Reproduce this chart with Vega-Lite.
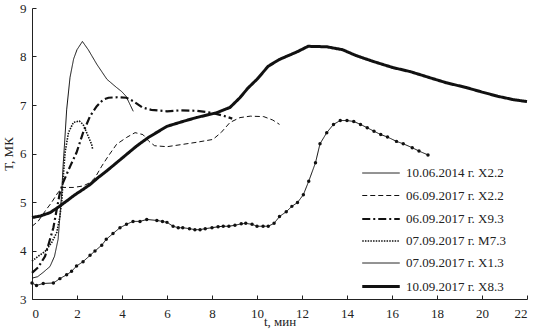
{
  "$schema": "https://vega.github.io/schema/vega-lite/v6.json",
  "width": 495,
  "height": 291,
  "autosize": {"type": "none"},
  "padding": {"left": 32, "top": 8, "right": 10, "bottom": 33},
  "background": "white",
  "data": {"values": [
    {"s":"10.06.2014 г. X2.2","t":0,"T":3.43},{"s":"10.06.2014 г. X2.2","t":0.25,"T":3.46},{"s":"10.06.2014 г. X2.2","t":0.5,"T":3.55},{"s":"10.06.2014 г. X2.2","t":0.8,"T":3.67},{"s":"10.06.2014 г. X2.2","t":1.0,"T":3.88},{"s":"10.06.2014 г. X2.2","t":1.16,"T":4.23},{"s":"10.06.2014 г. X2.2","t":1.24,"T":4.7},{"s":"10.06.2014 г. X2.2","t":1.32,"T":5.19},{"s":"10.06.2014 г. X2.2","t":1.38,"T":5.73},{"s":"10.06.2014 г. X2.2","t":1.46,"T":6.3},{"s":"10.06.2014 г. X2.2","t":1.54,"T":6.9},{"s":"10.06.2014 г. X2.2","t":1.69,"T":7.57},{"s":"10.06.2014 г. X2.2","t":1.85,"T":7.95},{"s":"10.06.2014 г. X2.2","t":2.0,"T":8.14},{"s":"10.06.2014 г. X2.2","t":2.24,"T":8.31},{"s":"10.06.2014 г. X2.2","t":2.5,"T":8.14},{"s":"10.06.2014 г. X2.2","t":2.88,"T":7.84},{"s":"10.06.2014 г. X2.2","t":3.33,"T":7.53},{"s":"10.06.2014 г. X2.2","t":3.76,"T":7.36},{"s":"10.06.2014 г. X2.2","t":3.98,"T":7.28},{"s":"10.06.2014 г. X2.2","t":4.18,"T":7.18},{"s":"10.06.2014 г. X2.2","t":4.5,"T":6.87},
    {"s":"06.09.2017 г. X2.2","t":0,"T":4.5},{"s":"06.09.2017 г. X2.2","t":0.27,"T":4.6},{"s":"06.09.2017 г. X2.2","t":0.58,"T":4.81},{"s":"06.09.2017 г. X2.2","t":0.87,"T":4.99},{"s":"06.09.2017 г. X2.2","t":1.16,"T":5.2},{"s":"06.09.2017 г. X2.2","t":1.38,"T":5.3},{"s":"06.09.2017 г. X2.2","t":1.84,"T":5.3},{"s":"06.09.2017 г. X2.2","t":2.27,"T":5.33},{"s":"06.09.2017 г. X2.2","t":2.58,"T":5.4},{"s":"06.09.2017 г. X2.2","t":2.8,"T":5.5},{"s":"06.09.2017 г. X2.2","t":3.1,"T":5.74},{"s":"06.09.2017 г. X2.2","t":3.38,"T":5.94},{"s":"06.09.2017 г. X2.2","t":3.76,"T":6.19},{"s":"06.09.2017 г. X2.2","t":4.2,"T":6.33},{"s":"06.09.2017 г. X2.2","t":4.58,"T":6.43},{"s":"06.09.2017 г. X2.2","t":4.93,"T":6.39},{"s":"06.09.2017 г. X2.2","t":5.2,"T":6.25},{"s":"06.09.2017 г. X2.2","t":5.45,"T":6.16},{"s":"06.09.2017 г. X2.2","t":6.0,"T":6.14},{"s":"06.09.2017 г. X2.2","t":6.58,"T":6.18},{"s":"06.09.2017 г. X2.2","t":7.3,"T":6.23},{"s":"06.09.2017 г. X2.2","t":8.04,"T":6.29},{"s":"06.09.2017 г. X2.2","t":8.4,"T":6.43},{"s":"06.09.2017 г. X2.2","t":8.8,"T":6.64},{"s":"06.09.2017 г. X2.2","t":9.24,"T":6.74},{"s":"06.09.2017 г. X2.2","t":9.7,"T":6.77},{"s":"06.09.2017 г. X2.2","t":10.3,"T":6.76},{"s":"06.09.2017 г. X2.2","t":10.7,"T":6.69},{"s":"06.09.2017 г. X2.2","t":11.0,"T":6.6},
    {"s":"06.09.2017 г. X9.3","t":0,"T":3.54},{"s":"06.09.2017 г. X9.3","t":0.27,"T":3.65},{"s":"06.09.2017 г. X9.3","t":0.58,"T":3.88},{"s":"06.09.2017 г. X9.3","t":0.8,"T":4.23},{"s":"06.09.2017 г. X9.3","t":0.95,"T":4.47},{"s":"06.09.2017 г. X9.3","t":1.1,"T":4.85},{"s":"06.09.2017 г. X9.3","t":1.24,"T":5.19},{"s":"06.09.2017 г. X9.3","t":1.38,"T":5.4},{"s":"06.09.2017 г. X9.3","t":1.69,"T":5.73},{"s":"06.09.2017 г. X9.3","t":1.98,"T":6.02},{"s":"06.09.2017 г. X9.3","t":2.27,"T":6.43},{"s":"06.09.2017 г. X9.3","t":2.58,"T":6.77},{"s":"06.09.2017 г. X9.3","t":2.87,"T":6.97},{"s":"06.09.2017 г. X9.3","t":3.16,"T":7.11},{"s":"06.09.2017 г. X9.3","t":3.4,"T":7.15},{"s":"06.09.2017 г. X9.3","t":3.8,"T":7.16},{"s":"06.09.2017 г. X9.3","t":4.2,"T":7.15},{"s":"06.09.2017 г. X9.3","t":4.5,"T":7.08},{"s":"06.09.2017 г. X9.3","t":4.9,"T":6.95},{"s":"06.09.2017 г. X9.3","t":5.3,"T":6.9},{"s":"06.09.2017 г. X9.3","t":6.0,"T":6.87},{"s":"06.09.2017 г. X9.3","t":6.6,"T":6.89},{"s":"06.09.2017 г. X9.3","t":7.3,"T":6.88},{"s":"06.09.2017 г. X9.3","t":8.0,"T":6.84},{"s":"06.09.2017 г. X9.3","t":8.5,"T":6.78},{"s":"06.09.2017 г. X9.3","t":8.9,"T":6.72},
    {"s":"07.09.2017 г. M7.3","t":0,"T":3.78},{"s":"07.09.2017 г. M7.3","t":0.27,"T":3.88},{"s":"07.09.2017 г. M7.3","t":0.58,"T":3.98},{"s":"07.09.2017 г. M7.3","t":0.87,"T":4.16},{"s":"07.09.2017 г. M7.3","t":1.1,"T":4.37},{"s":"07.09.2017 г. M7.3","t":1.24,"T":4.7},{"s":"07.09.2017 г. M7.3","t":1.33,"T":5.05},{"s":"07.09.2017 г. M7.3","t":1.37,"T":5.4},{"s":"07.09.2017 г. M7.3","t":1.47,"T":6.02},{"s":"07.09.2017 г. M7.3","t":1.62,"T":6.43},{"s":"07.09.2017 г. M7.3","t":1.84,"T":6.64},{"s":"07.09.2017 г. M7.3","t":2.1,"T":6.67},{"s":"07.09.2017 г. M7.3","t":2.27,"T":6.6},{"s":"07.09.2017 г. M7.3","t":2.43,"T":6.43},{"s":"07.09.2017 г. M7.3","t":2.65,"T":6.19},{"s":"07.09.2017 г. M7.3","t":2.7,"T":6.08},
    {"s":"07.09.2017 г. X1.3","t":0,"T":3.33},{"s":"07.09.2017 г. X1.3","t":0.2,"T":3.28},{"s":"07.09.2017 г. X1.3","t":0.5,"T":3.32},{"s":"07.09.2017 г. X1.3","t":0.95,"T":3.33},{"s":"07.09.2017 г. X1.3","t":1.24,"T":3.42},{"s":"07.09.2017 г. X1.3","t":1.54,"T":3.5},{"s":"07.09.2017 г. X1.3","t":1.76,"T":3.57},{"s":"07.09.2017 г. X1.3","t":1.98,"T":3.68},{"s":"07.09.2017 г. X1.3","t":2.27,"T":3.77},{"s":"07.09.2017 г. X1.3","t":2.58,"T":3.9},{"s":"07.09.2017 г. X1.3","t":2.8,"T":3.99},{"s":"07.09.2017 г. X1.3","t":3.1,"T":4.11},{"s":"07.09.2017 г. X1.3","t":3.3,"T":4.23},{"s":"07.09.2017 г. X1.3","t":3.6,"T":4.35},{"s":"07.09.2017 г. X1.3","t":3.91,"T":4.47},{"s":"07.09.2017 г. X1.3","t":4.2,"T":4.54},{"s":"07.09.2017 г. X1.3","t":4.49,"T":4.6},{"s":"07.09.2017 г. X1.3","t":4.8,"T":4.6},{"s":"07.09.2017 г. X1.3","t":5.1,"T":4.64},{"s":"07.09.2017 г. X1.3","t":5.55,"T":4.62},{"s":"07.09.2017 г. X1.3","t":5.8,"T":4.6},{"s":"07.09.2017 г. X1.3","t":6.0,"T":4.58},{"s":"07.09.2017 г. X1.3","t":6.27,"T":4.5},{"s":"07.09.2017 г. X1.3","t":6.5,"T":4.47},{"s":"07.09.2017 г. X1.3","t":6.7,"T":4.47},{"s":"07.09.2017 г. X1.3","t":7.0,"T":4.45},{"s":"07.09.2017 г. X1.3","t":7.24,"T":4.43},{"s":"07.09.2017 г. X1.3","t":7.47,"T":4.43},{"s":"07.09.2017 г. X1.3","t":7.7,"T":4.45},{"s":"07.09.2017 г. X1.3","t":8.0,"T":4.47},{"s":"07.09.2017 г. X1.3","t":8.27,"T":4.49},{"s":"07.09.2017 г. X1.3","t":8.5,"T":4.5},{"s":"07.09.2017 г. X1.3","t":8.75,"T":4.5},{"s":"07.09.2017 г. X1.3","t":9.02,"T":4.52},{"s":"07.09.2017 г. X1.3","t":9.3,"T":4.55},{"s":"07.09.2017 г. X1.3","t":9.5,"T":4.56},{"s":"07.09.2017 г. X1.3","t":9.78,"T":4.54},{"s":"07.09.2017 г. X1.3","t":10.0,"T":4.5},{"s":"07.09.2017 г. X1.3","t":10.27,"T":4.5},{"s":"07.09.2017 г. X1.3","t":10.5,"T":4.5},{"s":"07.09.2017 г. X1.3","t":10.76,"T":4.56},{"s":"07.09.2017 г. X1.3","t":11.0,"T":4.7},{"s":"07.09.2017 г. X1.3","t":11.3,"T":4.8},{"s":"07.09.2017 г. X1.3","t":11.55,"T":4.91},{"s":"07.09.2017 г. X1.3","t":11.8,"T":4.99},{"s":"07.09.2017 г. X1.3","t":12.06,"T":5.15},{"s":"07.09.2017 г. X1.3","t":12.3,"T":5.43},{"s":"07.09.2017 г. X1.3","t":12.6,"T":5.81},{"s":"07.09.2017 г. X1.3","t":12.8,"T":6.2},{"s":"07.09.2017 г. X1.3","t":13.1,"T":6.43},{"s":"07.09.2017 г. X1.3","t":13.4,"T":6.6},{"s":"07.09.2017 г. X1.3","t":13.7,"T":6.68},{"s":"07.09.2017 г. X1.3","t":14.0,"T":6.68},{"s":"07.09.2017 г. X1.3","t":14.3,"T":6.66},{"s":"07.09.2017 г. X1.3","t":14.6,"T":6.6},{"s":"07.09.2017 г. X1.3","t":14.9,"T":6.53},{"s":"07.09.2017 г. X1.3","t":15.2,"T":6.46},{"s":"07.09.2017 г. X1.3","t":15.5,"T":6.39},{"s":"07.09.2017 г. X1.3","t":15.8,"T":6.34},{"s":"07.09.2017 г. X1.3","t":16.2,"T":6.25},{"s":"07.09.2017 г. X1.3","t":16.5,"T":6.2},{"s":"07.09.2017 г. X1.3","t":16.9,"T":6.12},{"s":"07.09.2017 г. X1.3","t":17.2,"T":6.05},{"s":"07.09.2017 г. X1.3","t":17.6,"T":5.97},
    {"s":"10.09.2017 г. X8.3","t":0,"T":4.68},{"s":"10.09.2017 г. X8.3","t":0.36,"T":4.71},{"s":"10.09.2017 г. X8.3","t":0.8,"T":4.78},{"s":"10.09.2017 г. X8.3","t":1.16,"T":4.89},{"s":"10.09.2017 г. X8.3","t":1.54,"T":5.02},{"s":"10.09.2017 г. X8.3","t":1.91,"T":5.15},{"s":"10.09.2017 г. X8.3","t":2.27,"T":5.26},{"s":"10.09.2017 г. X8.3","t":2.58,"T":5.36},{"s":"10.09.2017 г. X8.3","t":2.93,"T":5.5},{"s":"10.09.2017 г. X8.3","t":3.32,"T":5.64},{"s":"10.09.2017 г. X8.3","t":3.76,"T":5.81},{"s":"10.09.2017 г. X8.3","t":4.2,"T":5.98},{"s":"10.09.2017 г. X8.3","t":4.64,"T":6.15},{"s":"10.09.2017 г. X8.3","t":5.17,"T":6.33},{"s":"10.09.2017 г. X8.3","t":5.6,"T":6.45},{"s":"10.09.2017 г. X8.3","t":6.0,"T":6.56},{"s":"10.09.2017 г. X8.3","t":6.7,"T":6.66},{"s":"10.09.2017 г. X8.3","t":7.3,"T":6.74},{"s":"10.09.2017 г. X8.3","t":8.2,"T":6.84},{"s":"10.09.2017 г. X8.3","t":8.8,"T":6.95},{"s":"10.09.2017 г. X8.3","t":9.24,"T":7.15},{"s":"10.09.2017 г. X8.3","t":9.6,"T":7.35},{"s":"10.09.2017 г. X8.3","t":10.0,"T":7.53},{"s":"10.09.2017 г. X8.3","t":10.5,"T":7.8},{"s":"10.09.2017 г. X8.3","t":11.0,"T":7.94},{"s":"10.09.2017 г. X8.3","t":11.8,"T":8.1},{"s":"10.09.2017 г. X8.3","t":12.27,"T":8.21},{"s":"10.09.2017 г. X8.3","t":13.1,"T":8.2},{"s":"10.09.2017 г. X8.3","t":13.8,"T":8.14},{"s":"10.09.2017 г. X8.3","t":14.4,"T":8.02},{"s":"10.09.2017 г. X8.3","t":15.15,"T":7.9},{"s":"10.09.2017 г. X8.3","t":16.05,"T":7.77},{"s":"10.09.2017 г. X8.3","t":16.8,"T":7.69},{"s":"10.09.2017 г. X8.3","t":17.7,"T":7.56},{"s":"10.09.2017 г. X8.3","t":18.4,"T":7.46},{"s":"10.09.2017 г. X8.3","t":19.3,"T":7.36},{"s":"10.09.2017 г. X8.3","t":19.9,"T":7.28},{"s":"10.09.2017 г. X8.3","t":20.7,"T":7.18},{"s":"10.09.2017 г. X8.3","t":21.4,"T":7.11},{"s":"10.09.2017 г. X8.3","t":22,"T":7.07}
  ]},
  "encoding": {
    "x": {"field": "t", "type": "quantitative", "scale": {"domain": [0, 22], "nice": false},
      "axis": {"title": "t, мин", "values": [0,2,4,6,8,10,12,14,16,18,20,22]}},
    "y": {"field": "T", "type": "quantitative", "scale": {"domain": [3, 9], "nice": false, "zero": false},
      "axis": {"title": "T, МК", "values": [3,4,5,6,7,8,9]}}
  },
  "layer": [
    {
      "mark": {"type": "line", "color": "#111", "interpolate": "linear"},
      "encoding": {
        "detail": {"field": "s"},
        "strokeDash": {"field": "s", "type": "ordinal",
          "scale": {"domain": ["10.06.2014 г. X2.2","06.09.2017 г. X2.2","06.09.2017 г. X9.3","07.09.2017 г. M7.3","07.09.2017 г. X1.3","10.09.2017 г. X8.3"],
                    "range": [[1,0],[5,3],[8,3,2,3],[1.5,1.2],[1,0],[1,0]]},
          "legend": {"title": null}},
        "strokeWidth": {"field": "s", "type": "ordinal",
          "scale": {"type": "ordinal", "domain": ["10.06.2014 г. X2.2","06.09.2017 г. X2.2","06.09.2017 г. X9.3","07.09.2017 г. M7.3","07.09.2017 г. X1.3","10.09.2017 г. X8.3"],
                    "range": [1, 1, 2.2, 1.6, 1, 3]},
          "legend": {"title": null}}
      }
    },
    {
      "transform": [{"filter": "datum.s === '07.09.2017 г. X1.3'"}],
      "mark": {"type": "circle", "color": "#111", "size": 12, "opacity": 1}
    }
  ],
  "config": {
    "font": "Liberation Serif",
    "view": {"stroke": null},
    "axis": {
      "grid": false,
      "domainColor": "#222",
      "tickColor": "#222",
      "tickSize": -4,
      "labelFont": "Liberation Serif",
      "labelFontSize": 13,
      "labelColor": "#222",
      "titleFont": "Liberation Serif",
      "titleFontSize": 13,
      "titleFontWeight": "normal",
      "titleColor": "#222"
    },
    "axisX": {"labelPadding": 12, "titlePadding": -5},
    "axisY": {"labelPadding": 10, "titlePadding": 4},
    "legend": {
      "orient": "none",
      "legendX": 340,
      "legendY": 157,
      "padding": 0,
      "symbolType": "M-2.5,0H2.5",
      "symbolSize": 225,
      "symbolStrokeColor": "#111",
      "symbolFillColor": "transparent",
      "labelFont": "Liberation Serif",
      "labelFontSize": 13,
      "labelColor": "#222",
      "labelLimit": 300,
      "gridAlign": "all",
      "rowPadding": 6.5,
      "labelOffset": 16
    }
  }
}
